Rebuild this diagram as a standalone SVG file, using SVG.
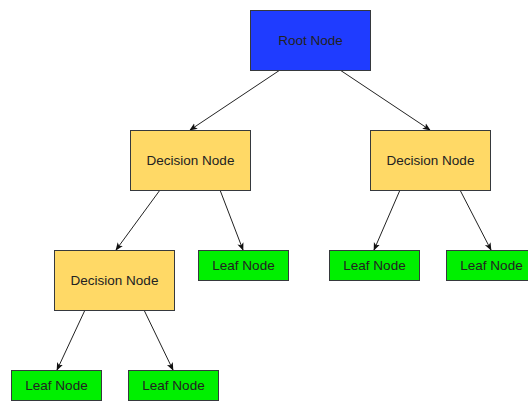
<svg xmlns="http://www.w3.org/2000/svg" width="528" height="401" viewBox="0 0 528 401">
  <style>
    .box { stroke: #36393d; stroke-width: 1; }
    .root { fill: #1f3cff; }
    .decision { fill: #ffd966; }
    .leaf { fill: #00f000; }
    .label { font-family: "Liberation Sans", Arial, sans-serif; font-size: 13.5px; fill: #222; text-anchor: middle; dominant-baseline: central; }
    .edge { stroke: #222; stroke-width: 1; fill: none; marker-end: url(#arrow); }
  </style>
  <defs>
    <marker id="arrow" viewBox="0 0 10 10" refX="9" refY="5" markerWidth="8" markerHeight="8" markerUnits="userSpaceOnUse" orient="auto">
      <path d="M0,1 L10,5 L0,9 L2.5,5 Z" fill="#111"/>
    </marker>
  </defs>
  <rect width="528" height="401" fill="#ffffff"/>

  <g id="connectors">
    <line class="edge" x1="280" y1="70" x2="190" y2="130"/>
    <line class="edge" x1="340" y1="70" x2="430" y2="130"/>
    <line class="edge" x1="160" y1="190" x2="116" y2="250"/>
    <line class="edge" x1="220" y1="190" x2="243" y2="250"/>
    <line class="edge" x1="400" y1="190" x2="374" y2="250"/>
    <line class="edge" x1="460" y1="190" x2="491" y2="250"/>
    <line class="edge" x1="85" y1="310" x2="57" y2="370"/>
    <line class="edge" x1="144" y1="310" x2="173" y2="370"/>
  </g>

  <g id="root">
    <rect class="box root" x="250.5" y="10.5" width="120" height="60"/>
    <text class="label" x="310.5" y="40.5">Root Node</text>
  </g>
  <g id="decision-left">
    <rect class="box decision" x="130.5" y="130.5" width="120" height="60"/>
    <text class="label" x="190.5" y="160.5">Decision Node</text>
  </g>
  <g id="decision-right">
    <rect class="box decision" x="370.5" y="130.5" width="120" height="60"/>
    <text class="label" x="430.5" y="160.5">Decision Node</text>
  </g>
  <g id="decision-lower">
    <rect class="box decision" x="54.5" y="250.5" width="120" height="60"/>
    <text class="label" x="114.5" y="280.5">Decision Node</text>
  </g>
  <g id="leaf-mid">
    <rect class="box leaf" x="198.5" y="250.5" width="90" height="30"/>
    <text class="label" x="243.5" y="265.5">Leaf Node</text>
  </g>
  <g id="leaf-right-1">
    <rect class="box leaf" x="329.5" y="250.5" width="90" height="30"/>
    <text class="label" x="374.5" y="265.5">Leaf Node</text>
  </g>
  <g id="leaf-right-2">
    <rect class="box leaf" x="446.5" y="250.5" width="90" height="30"/>
    <text class="label" x="491.5" y="265.5">Leaf Node</text>
  </g>
  <g id="leaf-bottom-1">
    <rect class="box leaf" x="11.5" y="370.5" width="90" height="30"/>
    <text class="label" x="56.5" y="385.5">Leaf Node</text>
  </g>
  <g id="leaf-bottom-2">
    <rect class="box leaf" x="128.5" y="370.5" width="90" height="30"/>
    <text class="label" x="173.5" y="385.5">Leaf Node</text>
  </g>
</svg>
